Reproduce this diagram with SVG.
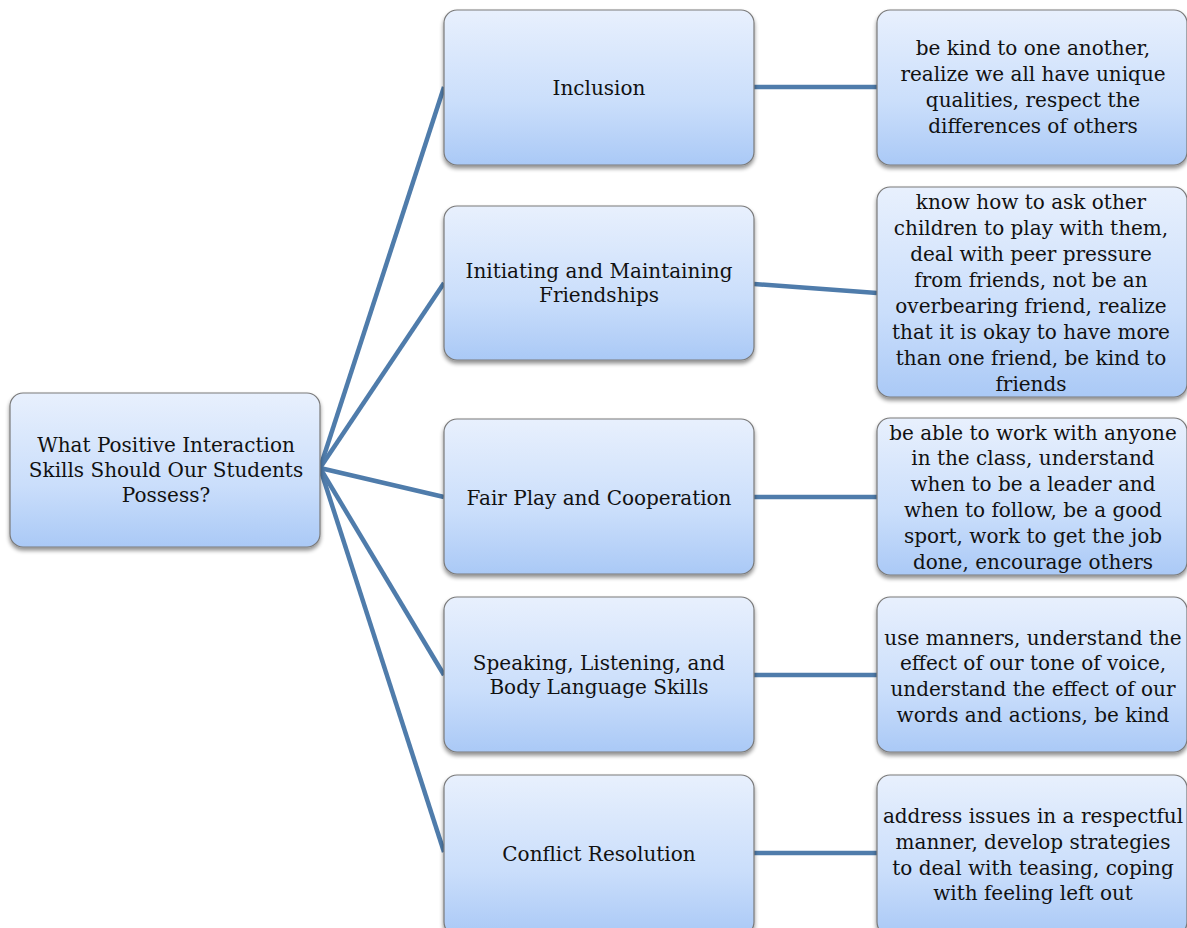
<svg xmlns="http://www.w3.org/2000/svg" width="1187" height="928" viewBox="0 0 1187 928">
<defs>
<linearGradient id="g" x1="0" y1="0" x2="0" y2="1">
<stop offset="0" stop-color="#e8f0fd"/>
<stop offset="0.6" stop-color="#cadefb"/>
<stop offset="1" stop-color="#aac9f6"/>
</linearGradient>
<filter id="sh" x="-10%" y="-10%" width="120%" height="130%">
<feGaussianBlur in="SourceAlpha" stdDeviation="2"/>
<feOffset dx="0" dy="3" result="b"/>
<feComponentTransfer><feFuncA type="linear" slope="0.45"/></feComponentTransfer>
<feMerge><feMergeNode/><feMergeNode in="SourceGraphic"/></feMerge>
</filter>
</defs>
<style>
.box{fill:url(#g);stroke:#7a7a7a;stroke-width:1.2;filter:url(#sh)}
.t{font-family:"DejaVu Serif","Liberation Serif",serif;font-size:20px;fill:#111;text-anchor:middle}
.c{stroke:#4f7cab;stroke-width:4.5;fill:none}
</style>
<g id="connectors">
<line class="c" x1="320" y1="468" x2="444" y2="87"/>
<line class="c" x1="320" y1="468" x2="444" y2="283"/>
<line class="c" x1="320" y1="468" x2="444" y2="497"/>
<line class="c" x1="320" y1="468" x2="444" y2="675"/>
<line class="c" x1="320" y1="468" x2="444" y2="852"/>
<line class="c" x1="754" y1="87" x2="877" y2="87"/>
<line class="c" x1="754" y1="284" x2="877" y2="293"/>
<line class="c" x1="754" y1="497" x2="877" y2="497"/>
<line class="c" x1="754" y1="675" x2="877" y2="675"/>
<line class="c" x1="754" y1="853" x2="877" y2="853"/>
</g>
<g id="root">
<rect class="box" x="10" y="393" width="310" height="154" rx="13"/>
<text class="t" x="166" y="452">What Positive Interaction</text>
<text class="t" x="166" y="477">Skills Should Our Students</text>
<text class="t" x="166" y="502">Possess?</text>
</g>
<g id="inclusion">
<rect class="box" x="444" y="10" width="310" height="155" rx="13"/>
<text class="t" x="599" y="95">Inclusion</text>
</g>
<g id="friendships">
<rect class="box" x="444" y="206" width="310" height="154" rx="13"/>
<text class="t" x="599" y="278">Initiating and Maintaining</text>
<text class="t" x="599" y="302">Friendships</text>
</g>
<g id="fairplay">
<rect class="box" x="444" y="419" width="310" height="155" rx="13"/>
<text class="t" x="599" y="505">Fair Play and Cooperation</text>
</g>
<g id="speaking">
<rect class="box" x="444" y="597" width="310" height="155" rx="13"/>
<text class="t" x="599" y="670">Speaking, Listening, and</text>
<text class="t" x="599" y="694">Body Language Skills</text>
</g>
<g id="conflict">
<rect class="box" x="444" y="775" width="310" height="160" rx="13"/>
<text class="t" x="599" y="861">Conflict Resolution</text>
</g>
<g id="inclusion-detail">
<rect class="box" x="877" y="10" width="310" height="155" rx="13"/>
<text class="t" x="1033" y="55">be kind to one another,</text>
<text class="t" x="1033" y="81">realize we all have unique</text>
<text class="t" x="1033" y="107">qualities, respect the</text>
<text class="t" x="1033" y="133">differences of others</text>
</g>
<g id="friendships-detail">
<rect class="box" x="877" y="187" width="310" height="210" rx="13"/>
<text class="t" x="1031" y="209">know how to ask other</text>
<text class="t" x="1031" y="235">children to play with them,</text>
<text class="t" x="1031" y="261">deal with peer pressure</text>
<text class="t" x="1031" y="287">from friends, not be an</text>
<text class="t" x="1031" y="313">overbearing friend, realize</text>
<text class="t" x="1031" y="339">that it is okay to have more</text>
<text class="t" x="1031" y="365">than one friend, be kind to</text>
<text class="t" x="1031" y="391">friends</text>
</g>
<g id="fairplay-detail">
<rect class="box" x="877" y="418" width="310" height="157" rx="13"/>
<text class="t" x="1033" y="440">be able to work with anyone</text>
<text class="t" x="1033" y="465">in the class, understand</text>
<text class="t" x="1033" y="491">when to be a leader and</text>
<text class="t" x="1033" y="517">when to follow, be a good</text>
<text class="t" x="1033" y="543">sport, work to get the job</text>
<text class="t" x="1033" y="569">done, encourage others</text>
</g>
<g id="speaking-detail">
<rect class="box" x="877" y="597" width="310" height="155" rx="13"/>
<text class="t" x="1033" y="645">use manners, understand the</text>
<text class="t" x="1033" y="670">effect of our tone of voice,</text>
<text class="t" x="1033" y="696">understand the effect of our</text>
<text class="t" x="1033" y="722">words and actions, be kind</text>
</g>
<g id="conflict-detail">
<rect class="box" x="877" y="775" width="310" height="160" rx="13"/>
<text class="t" x="1033" y="823">address issues in a respectful</text>
<text class="t" x="1033" y="849">manner, develop strategies</text>
<text class="t" x="1033" y="875">to deal with teasing, coping</text>
<text class="t" x="1033" y="900">with feeling left out</text>
</g>
</svg>
